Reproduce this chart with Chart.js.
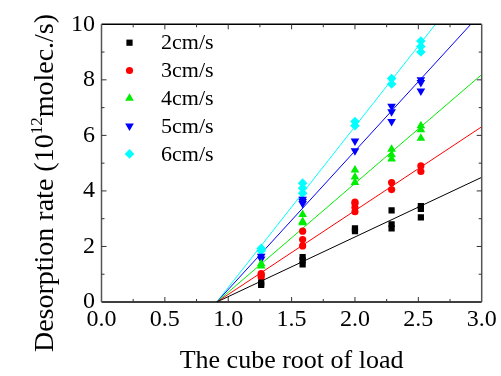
<!DOCTYPE html>
<html>
<head>
<meta charset="utf-8">
<script src="https://cdn.jsdelivr.net/npm/chart.js@4/dist/chart.umd.min.js"></script>
<style>
  html, body { margin: 0; padding: 0; background: #fff; }
  #wrap { width: 501px; height: 376px; }
</style>
</head>
<body>
<div id="wrap"><canvas id="rateChart" width="501" height="376"></canvas></div>
<script>
// x positions (cube root of load) and the speeds in the legend
const loadRoot = [1.26, 1.587, 2.0, 2.289, 2.52];
const speeds = ['2cm/s', '3cm/s', '4cm/s', '5cm/s', '6cm/s'];

// repeated measurements at each load, one list per load
const rate2 = [[0.62, 0.7], [1.35, 1.5, 1.62], [2.55, 2.65], [2.65, 2.8, 3.3], [3.05, 3.35, 3.45]];
const rate3 = [[0.9, 0.97, 1.02], [2.02, 2.25, 2.55], [3.25, 3.4, 3.55, 3.6], [4.05, 4.3], [4.7, 4.9]];
const rate4 = [[1.3, 1.38], [2.85, 2.9, 3.15], [4.3, 4.5, 4.75], [5.15, 5.3, 5.5], [5.9, 6.2, 6.35]];
const rate5 = [[1.55, 1.65], [3.55, 3.62, 3.7], [5.45, 5.8], [6.5, 6.85, 7.05], [7.6, 7.9, 8.0]];
const rate6 = [[1.85, 1.93], [3.92, 4.1, 4.28], [6.35, 6.5], [7.85, 8.05], [9.0, 9.2, 9.4]];

// linear fits: common start on the x axis, end where each leaves the frame
const fitStartX = 0.91;
const fitEndX = [3.0, 3.0, 3.0, 2.914, 2.635];
const fitEndY = [4.49, 6.31, 8.19, 10, 10];

const xTicks = [0, 0.5, 1.0, 1.5, 2.0, 2.5, 3.0];
const yTicks = [0, 2, 4, 6, 8, 10];

const colors = ['#000000', '#ff0000', '#00ee00', '#0000ff', '#00ffff'];
const styles = [
  { pointStyle: 'rect', radius: 4.4, rotation: 0 },
  { pointStyle: 'circle', radius: 3.6, rotation: 0 },
  { pointStyle: 'triangle', radius: 5, rotation: 0 },
  { pointStyle: 'triangle', radius: 5, rotation: 180 },
  { pointStyle: 'rectRot', radius: 4.8, rotation: 0 }
];

const SERIF = '"Liberation Serif", "Times New Roman", serif';

function toPoints(rows) {
  const pts = [];
  rows.forEach((vals, i) => vals.forEach(v => pts.push({ x: loadRoot[i], y: v })));
  return pts;
}

const rates = [rate2, rate3, rate4, rate5, rate6];

const scatterSets = rates.map((rows, i) => ({
  label: speeds[i],
  type: 'scatter',
  data: toPoints(rows),
  backgroundColor: colors[i],
  borderColor: colors[i],
  borderWidth: 0,
  pointStyle: styles[i].pointStyle,
  pointRadius: styles[i].radius,
  pointRotation: styles[i].rotation,
  order: 1
}));

const fitSets = rates.map((_, i) => ({
  label: speeds[i] + ' fit',
  type: 'line',
  data: [{ x: fitStartX, y: 0 }, { x: fitEndX[i], y: fitEndY[i] }],
  borderColor: colors[i],
  borderWidth: 1,
  pointRadius: 0,
  fill: false,
  order: 2
}));

// frame with inward major/minor ticks on all four sides
const framePlugin = {
  id: 'frame',
  afterDraw(chart) {
    const { ctx, chartArea: a, scales: { x, y } } = chart;
    ctx.save();
    ctx.lineWidth = 1.5;

    ctx.strokeStyle = '#000';
    ctx.beginPath();
    ctx.moveTo(a.left, a.top); ctx.lineTo(a.right, a.top);
    ctx.moveTo(a.left, a.bottom); ctx.lineTo(a.right, a.bottom);
    ctx.stroke();
    ctx.strokeStyle = '#555';
    ctx.beginPath();
    ctx.moveTo(a.left, a.top); ctx.lineTo(a.left, a.bottom);
    ctx.moveTo(a.right, a.top); ctx.lineTo(a.right, a.bottom);
    ctx.stroke();

    ctx.lineWidth = 1;
    ctx.strokeStyle = '#333';
    ctx.beginPath();
    for (let v = 0.25; v < 3; v += 0.25) {
      const px = x.getPixelForValue(v);
      const len = Math.abs(v * 2 - Math.round(v * 2)) < 1e-6 ? 5 : 3;
      ctx.moveTo(px, a.bottom); ctx.lineTo(px, a.bottom - len);
      ctx.moveTo(px, a.top); ctx.lineTo(px, a.top + len);
    }
    for (let v = 1; v < 10; v += 1) {
      const py = y.getPixelForValue(v);
      const len = v % 2 === 0 ? 5 : 3;
      ctx.moveTo(a.left, py); ctx.lineTo(a.left + len, py);
      ctx.moveTo(a.right, py); ctx.lineTo(a.right - len, py);
    }
    ctx.stroke();
    ctx.restore();
  }
};

// axis titles (the y title carries a superscript) and the legend
const labelsPlugin = {
  id: 'labels',
  afterDraw(chart) {
    const { ctx, chartArea: a } = chart;
    ctx.save();
    ctx.fillStyle = '#000';

    ctx.font = '26px ' + SERIF;
    ctx.textAlign = 'center';
    ctx.textBaseline = 'alphabetic';
    ctx.fillText('The cube root of load', (a.left + a.right) / 2, 368);

    const partA = 'Desorption rate (10';
    const partSup = '12';
    const partB = 'molec./s)';
    const big = '28px ' + SERIF;
    const small = '17px ' + SERIF;
    ctx.font = big;
    const wA = ctx.measureText(partA).width;
    const wB = ctx.measureText(partB).width;
    ctx.font = small;
    const wS = ctx.measureText(partSup).width;
    const total = wA + wS + wB;
    ctx.translate(53, 183);
    ctx.rotate(-Math.PI / 2);
    ctx.textAlign = 'left';
    let cx = -total / 2;
    ctx.font = big;
    ctx.fillText(partA, cx, 0);
    cx += wA;
    ctx.font = small;
    ctx.fillText(partSup, cx, -11);
    cx += wS;
    ctx.font = big;
    ctx.fillText(partB, cx, 0);
    ctx.restore();

    ctx.save();
    ctx.font = '22px ' + SERIF;
    ctx.textAlign = 'left';
    ctx.textBaseline = 'middle';
    speeds.forEach((name, i) => {
      const ly = 42.7 + i * 27.8;
      ctx.fillStyle = colors[i];
      ctx.strokeStyle = colors[i];
      ctx.lineWidth = 0;
      Chart.helpers.drawPoint(ctx, styles[i], 129.5, ly);
      ctx.fillStyle = '#000';
      ctx.fillText(name, 161, ly + 1);
    });
    ctx.restore();
  }
};

new Chart(document.getElementById('rateChart'), {
  data: { datasets: [...fitSets, ...scatterSets] },
  options: {
    responsive: false,
    animation: false,
    events: [],
    layout: { padding: { top: 24.3, right: 19.3, bottom: 0, left: 0 } },
    plugins: { legend: { display: false }, tooltip: { enabled: false } },
    scales: {
      x: {
        type: 'linear',
        min: 0,
        max: 3,
        afterFit(scale) { scale.height = 74; },
        afterBuildTicks(scale) { scale.ticks = xTicks.map(v => ({ value: v })); },
        grid: { display: false, drawTicks: false },
        border: { display: false },
        ticks: {
          padding: 3,
          color: '#000',
          font: { family: SERIF, size: 24 },
          callback: v => Number(v).toFixed(1)
        }
      },
      y: {
        type: 'linear',
        min: 0,
        max: 10,
        afterFit(scale) { scale.width = 101.5; },
        afterBuildTicks(scale) { scale.ticks = yTicks.map(v => ({ value: v })); },
        grid: { display: false, drawTicks: false },
        border: { display: false },
        ticks: {
          padding: 6.5,
          color: '#000',
          font: { family: SERIF, size: 24 },
          callback: v => String(v)
        }
      }
    }
  },
  plugins: [framePlugin, labelsPlugin]
});
</script>
</body>
</html>
